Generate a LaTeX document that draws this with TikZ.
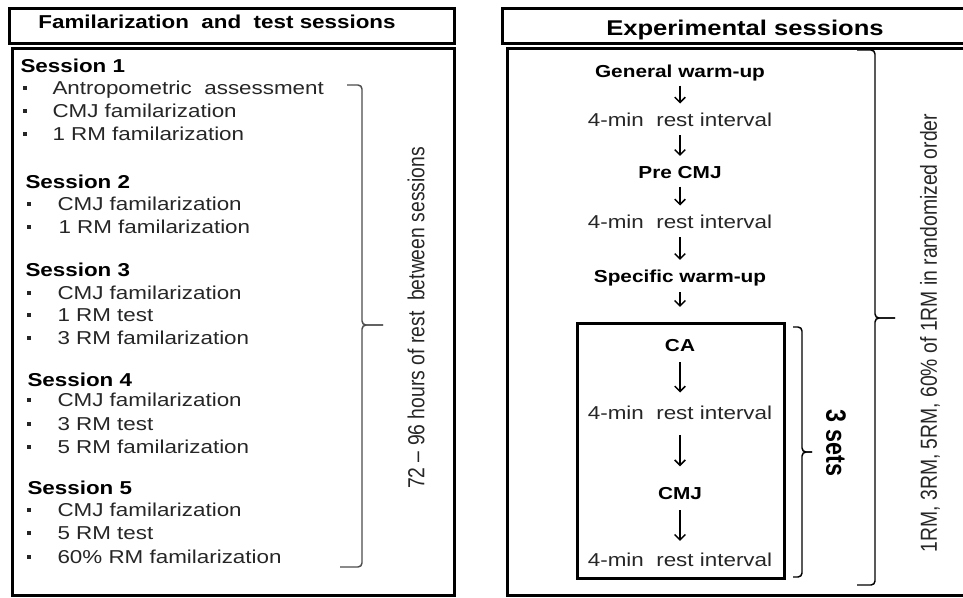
\documentclass[tikz,border=0pt]{standalone}
\usepackage{fontspec}
\setmainfont{Liberation Sans}[FakeStretch=1.2]
\newfontfamily\rotsans{Liberation Sans}
\usetikzlibrary{arrows.meta}
\usetikzlibrary{fit}
\tikzset{every picture/.style={line width=0.75pt}}

\begin{document}
\begin{tikzpicture}[x=0.75pt,y=0.75pt,yscale=-1,xscale=1,
  frame/.style={line width=2.25},
  setframe/.style={draw,line width=2.25,inner sep=0pt},
  bracket/.style={line width=1.1,rounded corners=3},
  titletxt/.style={anchor=base,inner sep=0.75pt,font=\bfseries\fontsize{14}{16}\selectfont},
  listhead/.style={anchor=base west,inner sep=0pt,font=\bfseries\fontsize{14}{16}\selectfont},
  listitem/.style={anchor=base west,inner sep=0pt,text=black!85,font=\fontsize{14}{16}\selectfont},
  bul/.style={fill=black!85,inner sep=0pt,minimum size=3.5pt},
  flowhead/.style={inner sep=0pt,text height=12.3pt,text depth=3pt,font=\bfseries\fontsize{13}{15}\selectfont},
  flowtxt/.style={inner sep=0pt,text height=13pt,text depth=3pt,text=black!85,font=\fontsize{14}{16}\selectfont},
  flowarrow/.style={-{Straight Barb[length=4pt,width=8pt]},line width=1.1,shorten <=3pt,shorten >=4pt},
  sidenote/.style={xscale=1.2,rotate=90,inner sep=0pt,text=black!85,font=\rotsans\fontsize{14.5}{16}\selectfont}
]
\useasboundingbox (0,0) rectangle (963,597);
\clip (0,0) rectangle (963,597);

%Shape: Rectangle [left title]
\draw [frame] (9,8) -- (454,8) -- (454,43) -- (9,43) -- cycle ;
%Shape: Rectangle [left sessions]
\draw [frame] (12,48) -- (454,48) -- (454,595) -- (12,595) -- cycle ;
%Shape: Rectangle [right title]
\draw [frame] (502,8) -- (970,8) -- (970,43) -- (502,43) -- cycle ;
%Shape: Rectangle [right sessions]
\draw [frame] (507,48) -- (970,48) -- (970,595) -- (507,595) -- cycle ;

% Text Node
\draw (217,28.7) node (famtitle) [titletxt] {Familarization \ and \ test sessions};
% Text Node
\draw (745,35) node (exptitle) [titletxt,font=\bfseries\fontsize{16}{18}\selectfont] {Experimental sessions};

% Session 1
\draw (20,72.5) node (s1) [listhead] {Session 1};
\draw (25,88) node (b1a) [bul] {};
\draw (52,94.5) node (s1a) [listitem] {Antropometric \ assessment};
\draw (25,111) node (b1b) [bul] {};
\draw (52,117.5) node (s1b) [listitem] {CMJ familarization};
\draw (25,134) node (b1c) [bul] {};
\draw (52,140.5) node (s1c) [listitem] {1 RM familarization};
% Session 2
\draw (25,188.5) node (s2) [listhead] {Session 2};
\draw (29,204) node (b2a) [bul] {};
\draw (57,210.5) node (s2a) [listitem] {CMJ familarization};
\draw (29,227) node (b2b) [bul] {};
\draw (58,233.5) node (s2b) [listitem] {1 RM familarization};
% Session 3
\draw (25,276.5) node (s3) [listhead] {Session 3};
\draw (29,293) node (b3a) [bul] {};
\draw (57,299.5) node (s3a) [listitem] {CMJ familarization};
\draw (29,315) node (b3b) [bul] {};
\draw (57,321.5) node (s3b) [listitem] {1 RM test};
\draw (29,338) node (b3c) [bul] {};
\draw (57,344.5) node (s3c) [listitem] {3 RM familarization};
% Session 4
\draw (27,386.5) node (s4) [listhead] {Session 4};
\draw (29,400) node (b4a) [bul] {};
\draw (57,406.5) node (s4a) [listitem] {CMJ familarization};
\draw (29,424) node (b4b) [bul] {};
\draw (57,430.5) node (s4b) [listitem] {3 RM test};
\draw (29,447) node (b4c) [bul] {};
\draw (57,453.5) node (s4c) [listitem] {5 RM familarization};
% Session 5
\draw (27,494.5) node (s5) [listhead] {Session 5};
\draw (29,510) node (b5a) [bul] {};
\draw (57,516.5) node (s5a) [listitem] {CMJ familarization};
\draw (29,533) node (b5b) [bul] {};
\draw (57,539.5) node (s5b) [listitem] {5 RM test};
\draw (29,557) node (b5c) [bul] {};
\draw (57,563.5) node (s5c) [listitem] {60\% RM familarization};

%Shape: Bracket [rest between sessions]
\draw [bracket,black!70] (347,85) -- (362,85) -- (362,325) -- (383,325) ;
\draw [bracket,black!70] (383,325) -- (362,325) -- (362,567) -- (340,567) ;
% Text Node
\draw (416,318) node (restnote) [sidenote] {72 – 96 hours of rest \ between sessions};

% Flow of one experimental session
\draw (680,71) node (genwu) [flowhead] {General warm-up};
\draw (680,120) node (rest1) [flowtxt] {4-min \ rest interval};
\draw (680,172) node (precmj) [flowhead] {Pre CMJ};
\draw (680,222) node (rest2) [flowtxt] {4-min \ rest interval};
\draw (680,276) node (specwu) [flowhead] {Specific warm-up};

%Shape: Rectangle [repeated sets]
\node (setbox) [setframe,fit={(577,323) (784,578)}] {};
\draw (680,345) node (ca) [flowhead] {CA};
\draw (680,413) node (rest3) [flowtxt] {4-min \ rest interval};
\draw (680,493) node (cmj) [flowhead] {CMJ};
\draw (680,560) node (rest4) [flowtxt] {4-min \ rest interval};

\draw [flowarrow] (genwu) -- (rest1);
\draw [flowarrow] (rest1) -- (precmj);
\draw [flowarrow] (precmj) -- (rest2);
\draw [flowarrow] (rest2) -- (specwu);
\draw [flowarrow,shorten <=4pt,shorten >=11pt] (specwu) -- (specwu |- setbox.north);
\draw [flowarrow,shorten <=5pt,shorten >=7pt] (ca) -- (rest3);
\draw [flowarrow,shorten <=8pt,shorten >=12pt] (rest3) -- (cmj);
\draw [flowarrow,shorten <=5pt,shorten >=6pt] (cmj) -- (rest4);

%Shape: Bracket [3 sets]
\draw [bracket] (793,327) -- (802,327) -- (802,452) -- (812,452) ;
\draw [bracket] (812,452) -- (802,452) -- (802,577) -- (793,577) ;
% Text Node
\draw (836,443) node (setsnote) [xscale=1.2,rotate=-90,font=\rotsans\bfseries\fontsize{17.5}{20}\selectfont] {3 sets};

%Shape: Bracket [loads]
\draw [bracket] (857,50) -- (875,50) -- (875,318) -- (895,318) ;
\draw [bracket] (895,318) -- (875,318) -- (875,585) -- (857,585) ;
% Text Node
\draw (930,333) node (loadnote) [sidenote] {1RM, 3RM, 5RM, 60\% of 1RM in randomized order};

\end{tikzpicture}
\end{document}
